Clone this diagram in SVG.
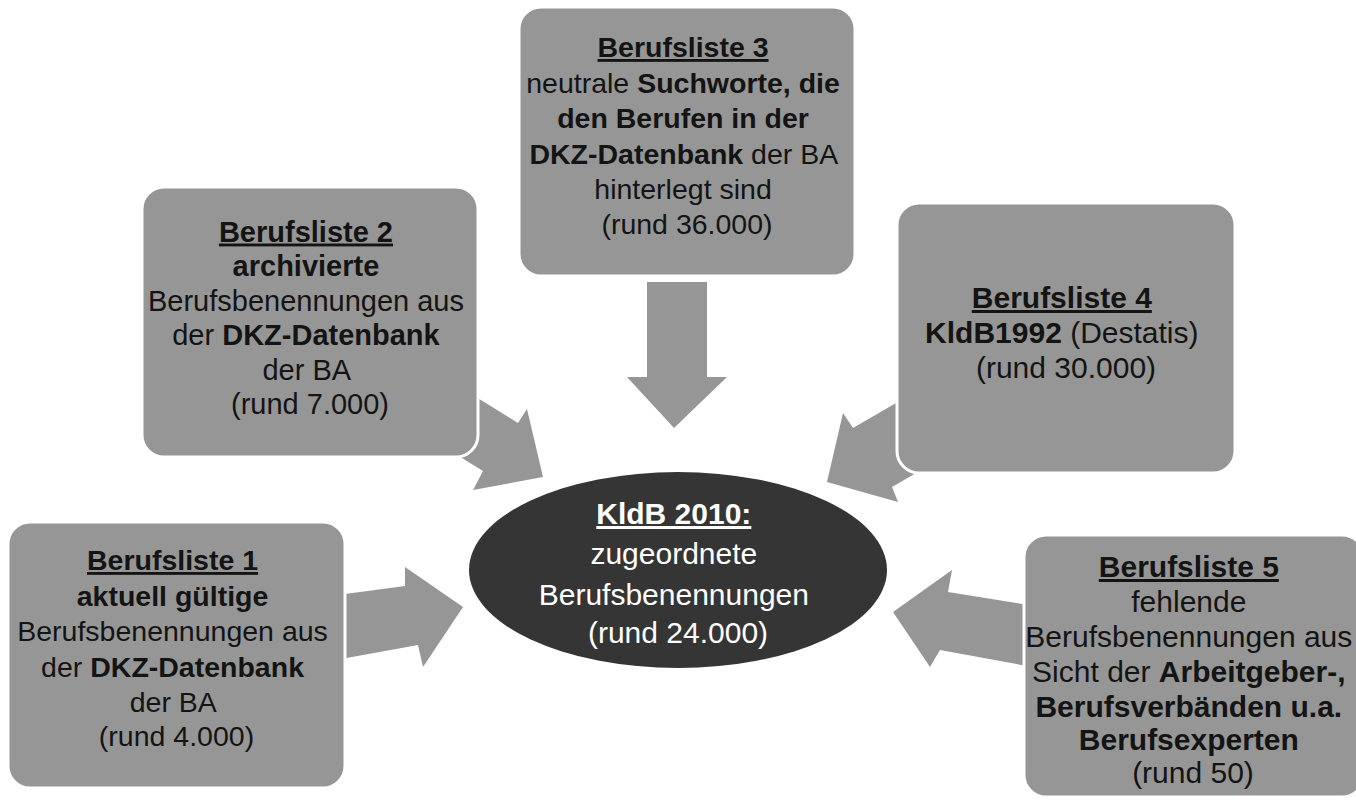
<svg xmlns="http://www.w3.org/2000/svg" width="1356" height="800" viewBox="0 0 1356 800">
  <style>
    .box { fill: #969696; stroke: #ffffff; stroke-width: 3; }
    .arrow { fill: #969696; stroke: none; }
    .t { font-family: "Liberation Sans", Arial, sans-serif; fill: #141414; text-anchor: middle; }
    .w { fill: #ffffff; }
    .b { font-weight: bold; }
    .u { text-decoration: underline; }
  </style>
  <rect width="1356" height="800" fill="#ffffff"/>

  <g id="connectors">
    <!-- from Berufsliste 3 (down) -->
    <polygon class="arrow" points="647,282 707,282 707,377 727,377 674,428 627,377 647,377"/>
    <!-- from Berufsliste 1 (right) -->
    <polygon class="arrow" points="330,596 405,586 405,567 463,607 423,667 418,645 330,661"/>
    <!-- from Berufsliste 2 (down-right) -->
    <polygon class="arrow" points="455,384 518,423 527,409 543,477 473,490 483,471 420,432"/>
    <!-- from Berufsliste 4 (down-left) -->
    <polygon class="arrow" points="915,392 853,428 843,413 827,482 898,502 892,487 954,451"/>
    <!-- from Berufsliste 5 (left) -->
    <polygon class="arrow" points="1060,610 948,592 952,570 893,612 930,667 940,650 1060,672"/>
  </g>

  <g id="liste1">
    <rect class="box" x="8" y="522" width="337" height="266" rx="22"/>
    <text class="t" font-size="28.5">
      <tspan class="b u" x="176.5" y="570">Berufsliste 1</tspan>
      <tspan class="b" x="176.5" y="605.5">aktuell gültige</tspan>
      <tspan x="176.5" y="641">Berufsbenennungen aus</tspan>
      <tspan x="176.5" y="676.5">der <tspan class="b">DKZ-Datenbank</tspan></tspan>
      <tspan x="176.5" y="712">der BA</tspan>
      <tspan x="176.5" y="746">(rund 4.000)</tspan>
    </text>
  </g>

  <g id="liste2">
    <rect class="box" x="142" y="187" width="336" height="270" rx="22"/>
    <text class="t" font-size="29">
      <tspan class="b u" x="310" y="241.5">Berufsliste 2</tspan>
      <tspan class="b" x="310" y="276">archivierte</tspan>
      <tspan x="310" y="310.5">Berufsbenennungen aus</tspan>
      <tspan x="310" y="345">der <tspan class="b">DKZ-Datenbank</tspan></tspan>
      <tspan x="310" y="379.5">der BA</tspan>
      <tspan x="310" y="414">(rund 7.000)</tspan>
    </text>
  </g>

  <g id="liste3">
    <rect class="box" x="519" y="7" width="336" height="269" rx="22"/>
    <text class="t" font-size="28.5">
      <tspan class="b u" x="687" y="57">Berufsliste 3</tspan>
      <tspan x="687" y="93">neutrale <tspan class="b">Suchworte, die</tspan></tspan>
      <tspan class="b" x="687" y="128">den Berufen in der</tspan>
      <tspan x="687" y="164"><tspan class="b">DKZ-Datenbank</tspan> der BA</tspan>
      <tspan x="687" y="199">hinterlegt sind</tspan>
      <tspan x="687" y="234">(rund 36.000)</tspan>
    </text>
  </g>

  <g id="liste4">
    <rect class="box" x="897" y="203" width="338" height="270" rx="22"/>
    <text class="t" font-size="30">
      <tspan class="b u" x="1066" y="308">Berufsliste 4</tspan>
      <tspan x="1066" y="343"><tspan class="b">KldB1992</tspan> (Destatis)</tspan>
      <tspan x="1066" y="378">(rund 30.000)</tspan>
    </text>
  </g>

  <g id="liste5">
    <rect class="box" x="1024" y="535" width="340" height="262" rx="22"/>
    <text class="t" font-size="30">
      <tspan class="b u" x="1193" y="577">Berufsliste 5</tspan>
      <tspan x="1193" y="612">fehlende</tspan>
      <tspan x="1193" y="647">Berufsbenennungen aus</tspan>
      <tspan x="1193" y="682">Sicht der <tspan class="b">Arbeitgeber-,</tspan></tspan>
      <tspan class="b" x="1193" y="717">Berufsverbänden u.a.</tspan>
      <tspan class="b" x="1193" y="750">Berufsexperten</tspan>
      <tspan x="1193" y="783">(rund 50)</tspan>
    </text>
  </g>

  <g id="kldb2010">
    <ellipse cx="678" cy="570" rx="209" ry="98" fill="#353535"/>
    <text class="t w" font-size="30">
      <tspan class="b u" x="678" y="524">KldB 2010:</tspan>
      <tspan x="678" y="564">zugeordnete</tspan>
      <tspan x="678" y="605">Berufsbenennungen</tspan>
      <tspan x="678" y="643">(rund 24.000)</tspan>
    </text>
  </g>
</svg>
